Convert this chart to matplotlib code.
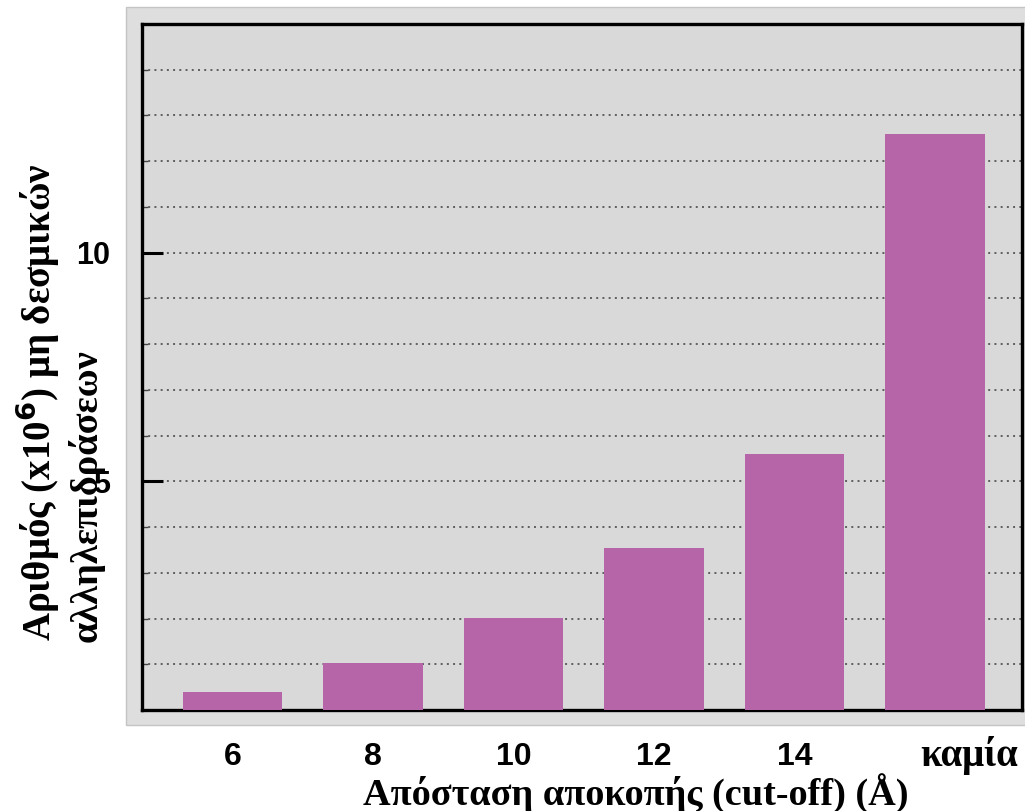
import matplotlib
matplotlib.use("Agg")
import matplotlib.pyplot as plt
from matplotlib.patches import Rectangle
from matplotlib.transforms import ScaledTranslation
from matplotlib.ticker import MultipleLocator, FixedLocator

# ---- data ----
categories = ["6", "8", "10", "12", "14", "καμία"]
values = [0.39, 1.03, 2.01, 3.55, 5.60, 12.60]
ytick_values = [5, 10]
ytick_labels = ["5", "10"]
xlabel = "Απόσταση αποκοπής (cut-off) (Å)"
ylabel_line1 = "Αριθμός (x10$^\\mathbf{6}$) μη δεσμικών"
ylabel_line2 = "αλληλεπιδράσεων"

W, H = 1025, 811
fig = plt.figure(figsize=(W / 100, H / 100), dpi=100)
fig.patch.set_facecolor("white")

# outer light-gray panel
panel = Rectangle((126 / W, 1 - 725 / H), (W - 126) / W + 0.01, (725 - 7) / H,
                  transform=fig.transFigure, facecolor="#dedede",
                  edgecolor="#c4c4c4", linewidth=1.0, zorder=-5)
fig.patches.append(panel)

ax = fig.add_axes([142 / W, 1 - 710 / H, (1022 - 142) / W, (710 - 24) / H])
ax.set_zorder(1)
ax.set_facecolor("#d9d9d9")

x = list(range(len(categories)))
ax.bar(x, values, width=0.71, color="#b565a8", edgecolor="none", zorder=3)

ax.set_xlim(-0.644, 5.62)
ax.set_ylim(0, 15)

# grid every 1 unit (dotted)
ax.yaxis.set_minor_locator(MultipleLocator(1))
ax.yaxis.set_major_locator(FixedLocator(ytick_values))
ax.set_yticklabels(ytick_labels)
ax.grid(True, axis="y", which="both", linestyle=(0, (1, 2.2)),
        color="#5e5e5e", linewidth=1.4, zorder=1)
ax.grid(False, axis="x")

ax.tick_params(axis="y", which="major", direction="in", length=15, width=2.2,
               pad=23, labelsize=22, color="black")
ax.tick_params(axis="y", which="minor", direction="in", length=4, width=1,
               color="#444444")
for lab in ax.get_yticklabels():
    lab.set_fontfamily("Liberation Sans")
    lab.set_fontweight("bold")

ax.set_xticks(x)
ax.set_xticklabels(categories)
ax.tick_params(axis="x", length=0, pad=23, labelsize=23)
xlabs = ax.get_xticklabels()
for lab in xlabs[:-1]:
    lab.set_fontfamily("Liberation Sans")
    lab.set_fontweight("bold")
last = xlabs[-1]
last.set_fontfamily("Liberation Serif")
last.set_fontweight("bold")
last.set_fontsize(28)
last.set_transform(last.get_transform() +
                   ScaledTranslation(34 / 100, 6 / 100, fig.dpi_scale_trans))

for s in ax.spines.values():
    s.set_linewidth(2.4)
    s.set_color("black")

fig.text(636 / W, 1 - 793 / H, xlabel, ha="center", va="center",
         fontsize=27.5, fontfamily="Liberation Serif", fontweight="bold")

fig.text(38 / W, 1 - 641 / H, ylabel_line1, rotation=90, ha="center",
         va="bottom", fontsize=28, fontfamily="Liberation Serif",
         fontweight="bold")
fig.text(86 / W, 1 - 642 / H, ylabel_line2, rotation=90, ha="center",
         va="bottom", fontsize=27.5, fontfamily="Liberation Serif",
         fontweight="bold")

fig.savefig("out.png", dpi=100)
